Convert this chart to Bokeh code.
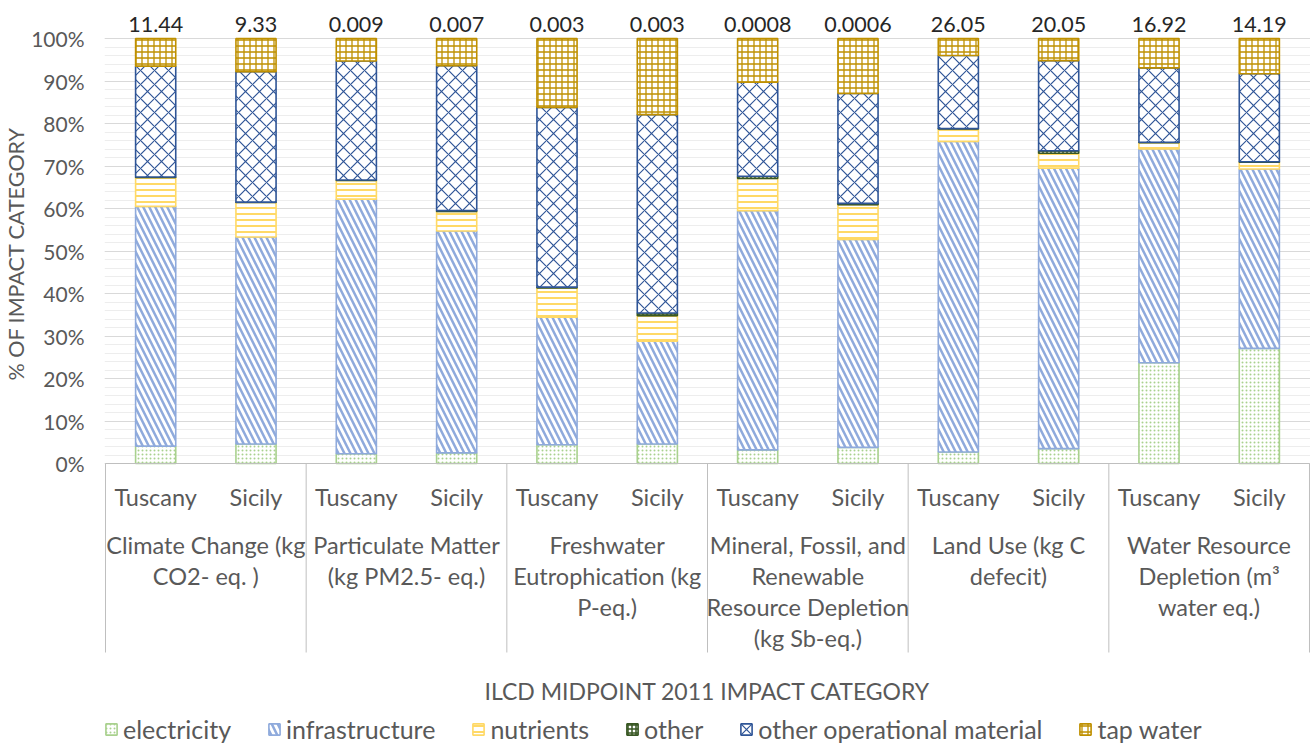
from bokeh.plotting import figure
from bokeh.models import (Range1d, FixedTicker, PrintfTickFormatter, ColumnDataSource,
                          Legend, LegendItem, Title)
from bokeh.embed import file_html
from bokeh.resources import INLINE
from bokeh.core.properties import value

# ---------------- data ----------------
regions = ["Tuscany", "Sicily"]
impact_categories = [
    ["Climate Change (kg", "CO2- eq. )"],
    ["Particulate Matter", "(kg PM2.5- eq.)"],
    ["Freshwater", "Eutrophication (kg", "P-eq.)"],
    ["Mineral, Fossil, and", "Renewable", "Resource Depletion", "(kg Sb-eq.)"],
    ["Land Use (kg C", "defecit)"],
    ["Water Resource", "Depletion (m\u00b3", "water eq.)"],
]
totals = ["11.44", "9.33", "0.009", "0.007", "0.003", "0.003",
          "0.0008", "0.0006", "26.05", "20.05", "16.92", "14.19"]

series_names = ["electricity", "infrastructure", "nutrients", "other",
                "other operational material", "tap water"]
electricity = [4.1, 4.6, 2.3, 2.5, 4.4, 4.6, 3.2, 3.8, 2.7, 3.5, 23.7, 27.1]
infrastructure = [56.4, 48.7, 59.9, 52.2, 30.0, 24.2, 56.3, 48.9, 73.1, 66.0, 50.3, 42.2]
nutrients = [6.8, 8.1, 4.4, 4.6, 6.9, 6.0, 7.6, 8.2, 2.9, 3.5, 1.5, 1.6]
other = [0.1, 0.1, 0.1, 0.2, 0.2, 0.6, 0.5, 0.3, 0.1, 0.6, 0.1, 0.1]
other_operational = [26.1, 30.7, 28.0, 34.1, 42.3, 46.7, 22.1, 25.9, 17.2, 21.2, 17.5, 20.7]
tap_water = [6.5, 7.8, 5.3, 6.4, 16.2, 17.9, 10.3, 12.9, 4.0, 5.2, 6.9, 8.3]

y_ticks = list(range(0, 101, 10))
y_minor = list(range(0, 101, 2))
x_title = "ILCD MIDPOINT 2011 IMPACT CATEGORY"
y_title = "% OF IMPACT CATEGORY"

# ---------------- styles ----------------
colors = ["#A9D18E", "#8FAADC", "#FFD966", "#385723", "#2F5597", "#BF9000"]
patterns = ["dot", "left_diagonal_line", "horizontal_line", "cross",
            "diagonal_cross", "cross"]
scales = [4, 12, 6, 4, 14, 6]
weights = [1.0, 2.5, 2.0, 1.5, 1.2, 1.3]
FONT = "Lato"
GREY = "#595959"

n_groups = len(impact_categories)
n_bars = n_groups * len(regions)
xs = [i + 0.5 for i in range(n_bars)]

W, H = 1310, 744
PX_PER_UNIT = 4.25            # 100 % = 425 px
u = 1.0 / PX_PER_UNIT         # data units per pixel
y_end = 100 + 38 * u          # 100 % line 38 px below the top
y_start = y_end - H * u

source = ColumnDataSource(dict(
    x=xs, electricity=electricity, infrastructure=infrastructure, nutrients=nutrients,
    other=other, other_op=other_operational, tap=tap_water))
stackers = ["electricity", "infrastructure", "nutrients", "other", "other_op", "tap"]

p = figure(width=W, height=H, x_range=Range1d(-0.01, n_bars + 0.01),
           y_range=Range1d(y_start, y_end),
           output_backend="svg", toolbar_location=None, x_axis_location=None,
           min_border_left=0, min_border_right=0, min_border_top=0,
           min_border_bottom=0, outline_line_color=None)

renderers = p.vbar_stack(stackers, x="x", width=0.4, source=source,
                         fill_color="white", line_color=colors, line_width=1.6,
                         hatch_pattern=patterns, hatch_color=colors, hatch_scale=scales,
                         hatch_weight=weights)

p.xgrid.visible = False
p.ygrid.bounds = (0, 100)
p.ygrid.grid_line_color = "#D9D9D9"
p.ygrid.minor_grid_line_color = "#EDEDED"
yax = p.yaxis[0]
yax.bounds = (0, 100)
yax.ticker = FixedTicker(ticks=y_ticks, minor_ticks=y_minor)
yax.formatter = PrintfTickFormatter(format="%d%%")
yax.axis_line_color = None
yax.major_tick_line_color = None
yax.minor_tick_line_color = None
yax.major_tick_out = 0
yax.major_tick_in = 0
yax.minor_tick_out = 0
yax.minor_tick_in = 0
yax.major_label_standoff = 20
yax.major_label_text_font = FONT
yax.major_label_text_font_size = "21px"
yax.major_label_text_color = GREY

# y axis title, placed along the 0-100 % span
ytitle = Title(text=y_title, align="left", offset=364, standoff=0,
               text_font=FONT, text_font_size="21.5px", text_font_style="normal",
               text_color=GREY)
p.add_layout(ytitle, "left")

# totals above bars
p.text(x=xs, y=[100 + 7 * u] * n_bars, text=totals, text_align="center",
       text_baseline="bottom", text_font=value(FONT), text_font_size="21.5px",
       text_color="#262626")

# category box lines
edges = [g * len(regions) for g in range(n_groups + 1)]
p.segment(x0=edges, y0=[0] * len(edges), x1=edges, y1=[-189 * u] * len(edges),
          line_color="#BFBFBF", line_width=1)
p.segment(x0=[0], y0=[0], x1=[n_bars], y1=[0], line_color="#BFBFBF", line_width=1)

# region labels
p.text(x=xs, y=[-33 * u] * n_bars, text=regions * n_groups, text_align="center",
       text_baseline="middle", text_font=value(FONT), text_font_size="23.5px",
       text_color=GREY)

# group labels (multi-line)
gx, gy, gt = [], [], []
for g, lines in enumerate(impact_categories):
    for k, line in enumerate(lines):
        gx.append(g * len(regions) + len(regions) / 2)
        gy.append(-(81 + 31 * k) * u)
        gt.append(line)
p.text(x=gx, y=gy, text=gt, text_align="center", text_baseline="middle",
       text_font=value(FONT), text_font_size="23.5px", text_color=GREY)

# x axis title
p.text(x=[n_bars / 2], y=[-227 * u], text=[x_title], text_align="center",
       text_baseline="middle", text_font=value(FONT), text_font_size="23px",
       text_color=GREY)

items = [LegendItem(label=name, renderers=[r]) for name, r in zip(series_names, renderers)]
legend = Legend(items=items, orientation="horizontal", location=(0, 0),
                glyph_width=14, glyph_height=14, label_standoff=5, spacing=36,
                padding=0, margin=0, border_line_color=None, background_fill_alpha=0,
                label_text_font=FONT, label_text_font_size="25px",
                label_text_color=GREY)
p.add_layout(legend)

open("out.html", "w").write(file_html(p, INLINE))
